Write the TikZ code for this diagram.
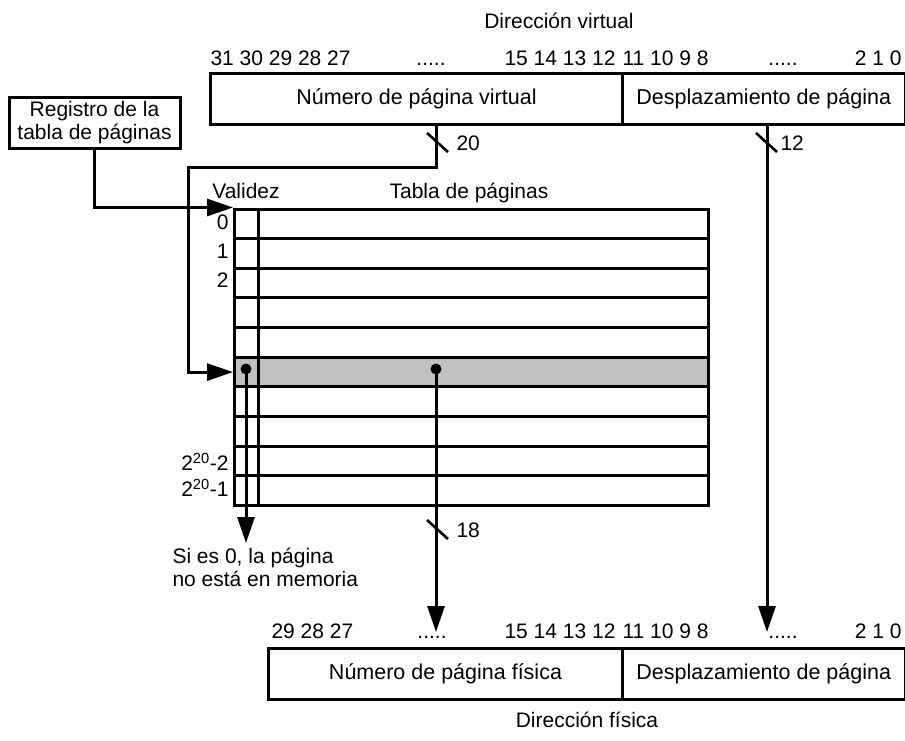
\documentclass[tikz,border=0pt]{standalone}
\usepackage{fontspec}
\setmainfont{Liberation Sans}
\usetikzlibrary{arrows.meta}

\begin{document}
\begin{tikzpicture}[x=1pt,y=-1pt,
  line width=3pt,
  txt/.style={font=\fontsize{21}{23}\selectfont, inner sep=0pt},
  bits/.style={font=\fontsize{21}{23}\selectfont, inner sep=0pt},
  field/.style={draw, inner sep=0pt, minimum height=51pt, anchor=north west,
    font=\fontsize{21.5}{24}\selectfont},
  tablerow/.style={draw, inner sep=0pt, minimum width=474pt, minimum height=29.65pt,
    anchor=north west},
  arr/.style={-{Triangle[length=26pt,width=17pt]}},
  tick/.style={line width=2.6pt},
  dot/.style={circle, fill, inner sep=0pt, minimum size=11pt}]
\useasboundingbox (0,0) rectangle (905,740);

% ---- virtual address ----
\node[txt] (vtitle) at (559,21) {Dirección virtual};
\node[bits, anchor=base west] (vb31) at (209,65) {31 30 29 28 27};
\node[bits, anchor=base] (vbd1) at (431,65) {.....};
\node[bits, anchor=base east] (vb15) at (617,65) {15 14 13 12};
\node[bits, anchor=base west] (vb11) at (621,65) {11 10 9 8};
\node[bits, anchor=base] (vbd2) at (783,65) {.....};
\node[bits, anchor=base east] (vb2) at (903,65) {2 1 0};
\node[field, minimum width=412pt] (vpn) at (209,72) {Número de página virtual};
\node[field, minimum width=282.5pt] (voff) at (621,72) {Desplazamiento de página};

% ---- page table register ----
\node[draw, txt, align=center, minimum width=171pt, minimum height=51pt]
  (reg) at (94.5,122.5) {Registro de la\\tabla de páginas};

% ---- page table ----
\node[txt, anchor=base] (valid) at (246,198) {Validez};
\node[txt, anchor=base] (ttitle) at (469,198) {Tabla de páginas};
\foreach \i in {0,...,9}{
  \node[tablerow] (r\i) at (233,{207.5+29.65*\i}) {};
}
\node[tablerow, fill={rgb,255:red,192;green,192;blue,192}] (r5) at (233,355.75) {};
\draw (258.5,207.5) -- (258.5,504);
\node[txt, anchor=east] (l0) at (230,222) {0};
\node[txt, anchor=east] (l1) at (230,251) {1};
\node[txt, anchor=east] (l2) at (230,280) {2};
\node[txt, anchor=east] (lm2) at (230,462) {2\textsuperscript{20}-2};
\node[txt, anchor=east] (lm1) at (230,488) {2\textsuperscript{20}-1};

% ---- physical address ----
\node[bits, anchor=base west] (pb29) at (270,638) {29 28 27};
\node[bits, anchor=base] (pbd1) at (432,638) {.....};
\node[bits, anchor=base east] (pb15) at (617,638) {15 14 13 12};
\node[bits, anchor=base west] (pb11) at (621,638) {11 10 9 8};
\node[bits, anchor=base] (pbd2) at (783,638) {.....};
\node[bits, anchor=base east] (pb2) at (903,638) {2 1 0};
\node[field, minimum width=354pt] (ppn) at (267,647) {Número de página física};
\node[field, minimum width=282.5pt] (poff) at (621,647) {Desplazamiento de página};
\node[txt] (ptitle) at (587,720) {Dirección física};

% ---- connectors ----
\coordinate (v20) at (436,123);
\coordinate (v12) at (767,123);
\coordinate (p18) at (436,632);
\coordinate (p12) at (767,632);
\node[dot] (dv) at (246,369) {};
\node[dot] (df) at (436,369) {};
\coordinate (vout) at (246,543);

\draw[arr] (reg.south) |- (r0.north west);
\draw[arr] (v20) -- (436,167) -- (188,167) |- (r5.west);
\draw[arr] (v12) -- (p12);
\draw[arr] (dv.center) -- (vout);
\draw[arr] (df.center) -- (p18);

% bus-width marks
\draw[tick] (427,133) -- (448,152);
\node[txt, anchor=west] (w20) at (455,143) {20};
\draw[tick] (756,133) -- (777,152);
\node[txt, anchor=west] (w12) at (779,143) {12};
\draw[tick] (427,520) -- (448,539);
\node[txt, anchor=west] (w18) at (455,530) {18};

\node[txt, anchor=north west, align=left] (note) at (171,547)
  {Si es 0, la página\\no está en memoria};
\end{tikzpicture}
\end{document}
